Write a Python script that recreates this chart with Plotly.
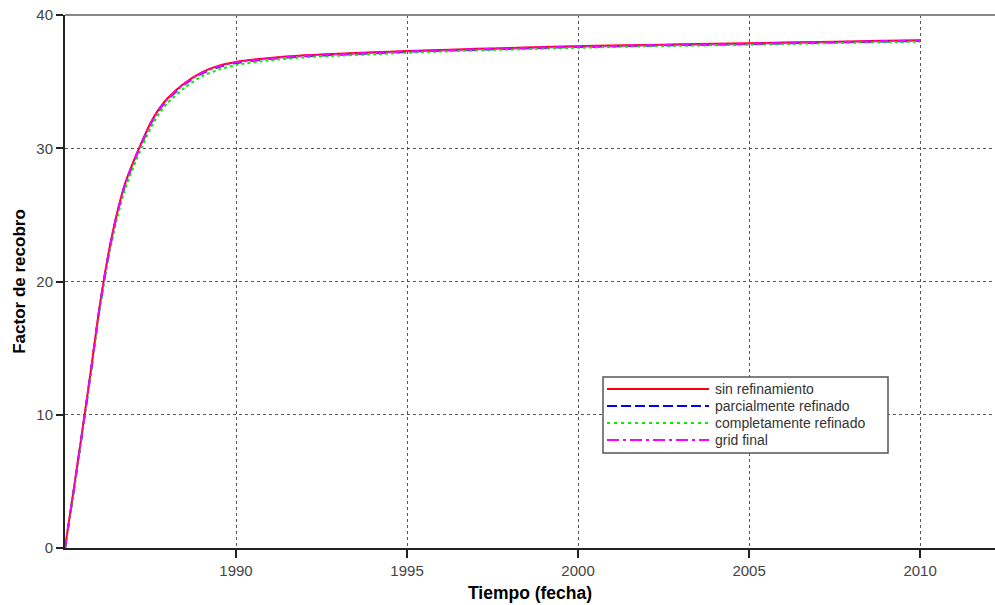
import plotly.graph_objects as go

# ---- data ----
years = [1985.0, 1985.25, 1985.5, 1985.75, 1986.0, 1986.25, 1986.5, 1986.75,
         1987.0, 1987.25, 1987.5, 1987.75, 1988.0, 1988.5, 1989.0, 1989.5,
         1990, 1991, 1992, 1993, 1994, 1995, 1996, 1997, 1998, 1999, 2000,
         2001, 2002, 2003, 2004, 2005, 2006, 2007, 2008, 2009, 2010]

sin_refinamiento = [0.0, 4.3, 8.7, 13.2, 17.9, 21.8, 24.9, 27.3,
                    29.0, 30.5, 31.9, 32.95, 33.75, 34.9, 35.7, 36.2,
                    36.48, 36.78, 36.98, 37.1, 37.2, 37.3, 37.38, 37.46, 37.53, 37.6, 37.66,
                    37.71, 37.75, 37.8, 37.84, 37.88, 37.93, 37.98, 38.02, 38.06, 38.1]

parcialmente_refinado = [0.0, 4.2, 8.6, 13.1, 17.8, 21.7, 24.8, 27.2,
                         28.9, 30.4, 31.8, 32.85, 33.65, 34.8, 35.6, 36.1,
                         36.4, 36.7, 36.9, 37.02, 37.12, 37.24, 37.32, 37.4, 37.47, 37.54, 37.6,
                         37.65, 37.7, 37.74, 37.78, 37.82, 37.87, 37.92, 37.97, 38.01, 38.05]

completamente_refinado = [0.0, 4.1, 8.5, 12.9, 17.6, 21.5, 24.5, 26.9,
                          28.6, 30.1, 31.5, 32.6, 33.4, 34.55, 35.4, 35.9,
                          36.25, 36.6, 36.82, 36.95, 37.05, 37.17, 37.26, 37.34, 37.41, 37.48, 37.54,
                          37.6, 37.65, 37.69, 37.73, 37.77, 37.82, 37.87, 37.92, 37.96, 38.0]

grid_final = [0.0, 4.25, 8.65, 13.15, 17.85, 21.75, 24.85, 27.25,
              28.95, 30.45, 31.85, 32.9, 33.7, 34.85, 35.65, 36.15,
              36.45, 36.74, 36.95, 37.06, 37.16, 37.27, 37.35, 37.43, 37.5, 37.57, 37.63,
              37.68, 37.73, 37.77, 37.81, 37.85, 37.9, 37.95, 38.0, 38.04, 38.08]

x_ticks = [1990, 1995, 2000, 2005, 2010]
y_ticks = [0, 10, 20, 30, 40]

series = [
    ("sin refinamiento", sin_refinamiento, "#ff0000", "solid"),
    ("parcialmente refinado", parcialmente_refinado, "#0000ff", "dash"),
    ("completamente refinado", completamente_refinado, "#00ee00", "dot"),
    ("grid final", grid_final, "#ff00ff", "dashdot"),
]

FONT = "Liberation Sans, Arial, sans-serif"

fig = go.Figure()
for name, vals, color, dash in series:
    fig.add_trace(go.Scatter(x=years, y=vals, mode="lines", name=name,
                             line=dict(color=color, width=2, dash=dash, shape="spline", smoothing=0.6),
                             showlegend=False))

# ---- custom legend (paper coordinates) ----
W, H = 995, 605
ML, MR, MT, MB = 65, 0, 15, 57
pw, ph = W - ML - MR, H - MT - MB

def px(xp):
    return (xp - ML) / pw

def py(yp):
    return 1 - (yp - MT) / ph

shapes = []
annotations = []
shapes.append(dict(type="rect", xref="paper", yref="paper",
                   x0=px(603), x1=px(888), y0=py(453), y1=py(377),
                   line=dict(color="#555555", width=1.5), fillcolor="white", layer="above"))
dash_map = {"solid": "solid", "dash": "10px,4px", "dot": "3px,4px", "dashdot": "12px,4px,3px,4px"}
row_y = [389, 406, 423, 440]
for (name, vals, color, dash), ry in zip(series, row_y):
    shapes.append(dict(type="line", xref="paper", yref="paper",
                       x0=px(607), x1=px(709), y0=py(ry), y1=py(ry),
                       line=dict(color=color, width=2, dash=dash_map[dash]), layer="above"))
    annotations.append(dict(xref="paper", yref="paper", x=px(713), y=py(ry),
                            text=name, showarrow=False, xanchor="left", yanchor="middle",
                            font=dict(family=FONT, size=14, color="#333333")))

# top border (gray)
shapes.append(dict(type="line", xref="paper", yref="paper", x0=0, x1=1, y0=1, y1=1,
                   line=dict(color="#888888", width=2), layer="above"))

fig.update_layout(
    width=W, height=H,
    margin=dict(l=ML, r=MR, t=MT, b=MB),
    paper_bgcolor="white", plot_bgcolor="white",
    font=dict(family=FONT, size=15, color="#444444"),
    shapes=shapes, annotations=annotations,
    xaxis=dict(range=[1985, 2012.19], tickvals=x_ticks, ticktext=[str(v) for v in x_ticks],
               showgrid=True, gridcolor="#555555", griddash="dot", gridwidth=1,
               showline=True, linecolor="#222222", linewidth=2,
               ticks="outside", ticklen=8, tickwidth=2, tickcolor="#222222",
               zeroline=False,
               tickfont=dict(family=FONT, size=15, color="#444444"),
               title=dict(text="<b>Tiempo (fecha)</b>", standoff=9,
                          font=dict(family=FONT, size=17.5, color="#000000"))),
    yaxis=dict(range=[0, 40], tickvals=y_ticks,
               showgrid=True, gridcolor="#555555", griddash="dot", gridwidth=1,
               showline=True, linecolor="#222222", linewidth=2,
               ticks="outside", ticklen=7, tickwidth=2, tickcolor="#222222",
               zeroline=False,
               tickfont=dict(family=FONT, size=15, color="#444444"),
               title=dict(text="<b>Factor de recobro</b>", standoff=6,
                          font=dict(family=FONT, size=17, color="#000000"))),
)

fig.write_html("out.html", config={"displayModeBar": False},
               post_script="document.body.style.margin='0';document.body.style.overflow='hidden';")
